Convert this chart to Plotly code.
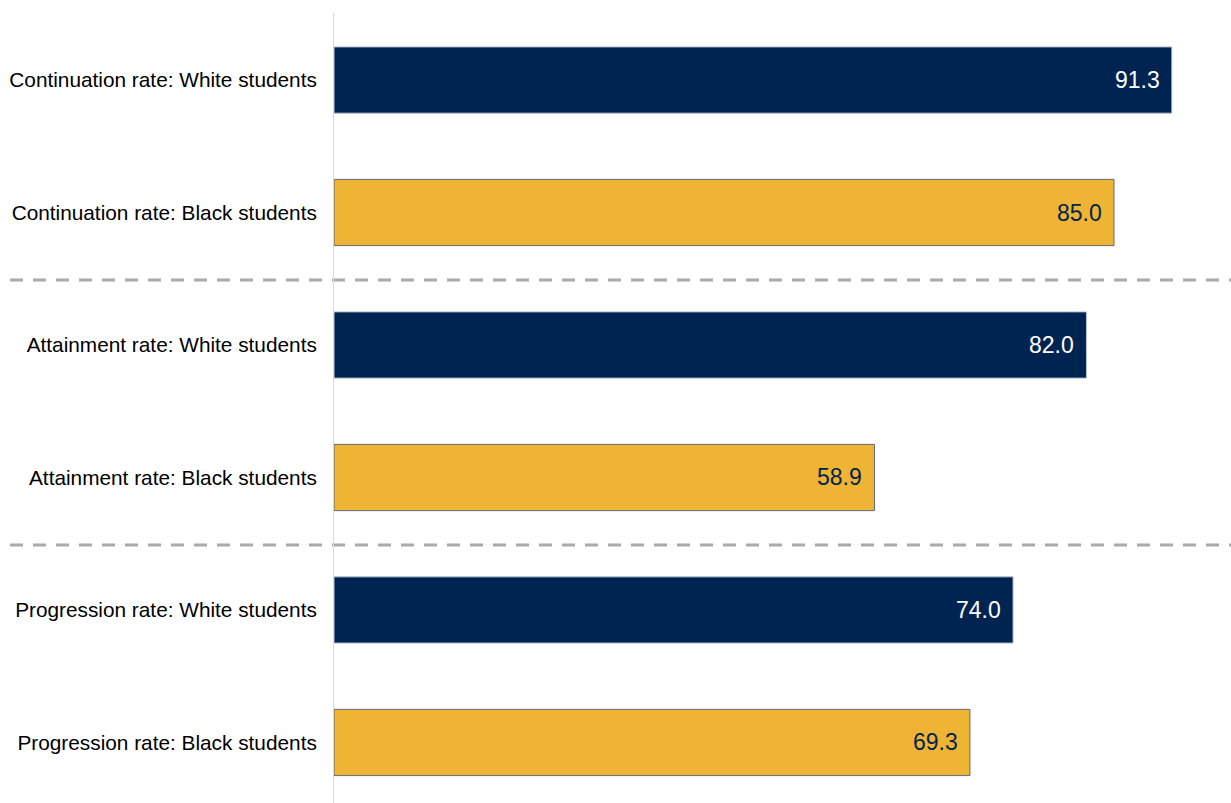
import plotly.graph_objects as go

categories = [
    "Continuation rate: White students",
    "Continuation rate: Black students",
    "Attainment rate: White students",
    "Attainment rate: Black students",
    "Progression rate: White students",
    "Progression rate: Black students",
]
values = [91.3, 85.0, 82.0, 58.9, 74.0, 69.3]
groups = ["White", "Black", "White", "Black", "White", "Black"]

NAVY = "#002452"
GOLD = "#F0B435"

W, H = 1231, 803
LEFT, TOP = 334, 13

positions = list(range(len(categories)))

fig = go.Figure()
for grp, fill, edge, txt in [("White", NAVY, "#b8c2d0", "white"), ("Black", GOLD, "#5f6b7a", NAVY)]:
    idx = [i for i, g in enumerate(groups) if g == grp]
    fig.add_trace(go.Bar(
        x=[values[i] for i in idx],
        y=[positions[i] for i in idx],
        orientation="h",
        width=0.5,
        marker=dict(color=fill, line=dict(color=edge, width=1)),
        showlegend=False,
        hoverinfo="skip",
    ))
    for i in idx:
        fig.add_annotation(
            x=values[i], y=positions[i], xref="x", yref="y",
            text=f"{values[i]:.1f}", showarrow=False,
            xanchor="right", yanchor="middle", xshift=-10,
            font=dict(family="Liberation Sans, Arial", size=23, color=txt),
        )

# dashed separators between the three measures
x_start = (10 - LEFT) / (W - LEFT)
for yv in [1.51, 3.51]:
    fig.add_shape(
        type="line", xref="paper", yref="y",
        x0=x_start, x1=1, y0=yv, y1=yv,
        line=dict(color="#aaaaaa", width=3, dash="13px,10px"),
        layer="below",
    )

fig.update_layout(
    width=W, height=H,
    margin=dict(l=LEFT, r=0, t=TOP, b=0),
    paper_bgcolor="white", plot_bgcolor="white",
    barmode="overlay",
    font=dict(family="Liberation Sans, Arial", color="#000000"),
)
fig.update_xaxes(range=[0, 97.75], showgrid=False, zeroline=False,
                 showticklabels=False, showline=False, fixedrange=True)
fig.update_yaxes(
    tickmode="array", tickvals=positions, ticktext=categories,
    range=[5.457, -0.506], showgrid=False, zeroline=False,
    showline=True, linecolor="#d9d9d9", linewidth=1,
    ticks="", ticklabelstandoff=12,
    tickfont=dict(family="Liberation Sans, Arial", size=20.8, color="#000000"),
)

fig.write_html("out.html")
